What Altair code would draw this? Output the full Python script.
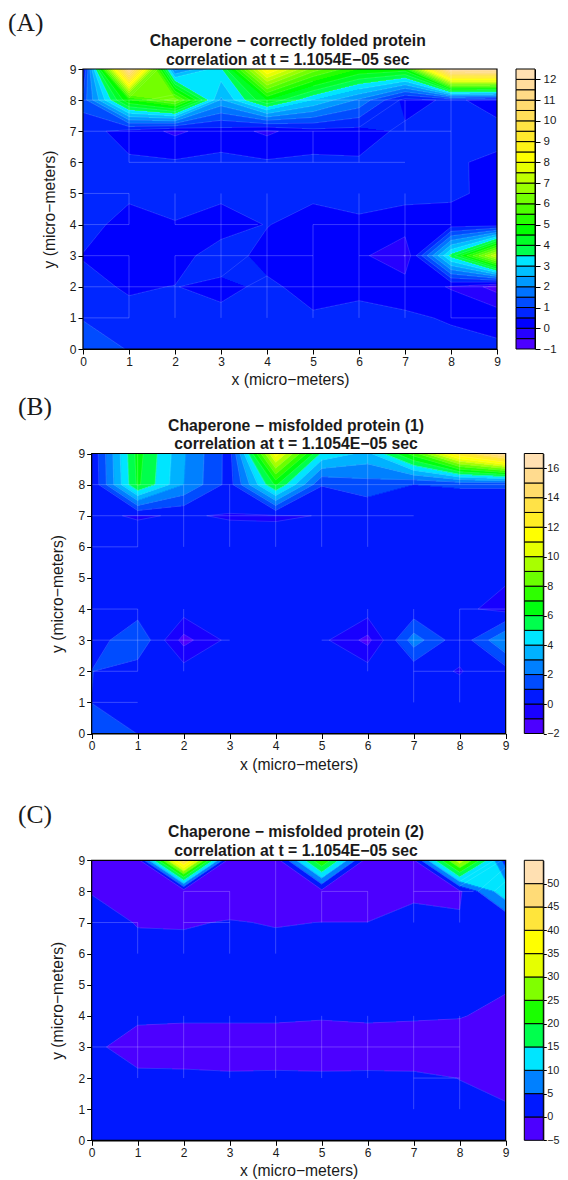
import colorsys
import altair as alt
import numpy as np
import pandas as pd

# Grid readings, one row per y from y=9 down to y=0, columns x=0..9
Z_A = [
    [.3, 11.8, 1.8, 3.4, 8.7, 6.3, 5.0, 4.8, 12.3, 12.4],
    [1.2, 5.0, 6.3, 2.4, 4.5, 3.0, 1.9, .3, .6, .3],
    [.7, .3, -.1, .25, -.1, .3, .3, .6, .7, .65],
    [.7, .57, .56, .62, .56, .57, .55, .7, .55, .42],
    [.6, .6, .6, .6, .6, .6, .6, .6, .6, .35],
    [.7, .3, .485, .3, .52, .3, .45, .33, .25, .2],
    [.48, .2, .32, .72, .35, .2, .15, -.52, 3.7, 7.5],
    [.6, .46, .51, .4, .58, .35, .42, .35, -.05, -.7],
    [.98, .6, .6, .6, .6, .55, .6, .55, .47, .35],
    [1.2, .98, .6, .6, .6, .6, .6, .6, .6, .58],
]
Z_B = [
    [.1, 6.4, 3.1, .6, 11.5, 4.8, 3.7, 7.5, 13, 16.3],
    [.05, 6.2, 3.0, .6, 6.2, 1.05, 1.6, 1.0, 1.1, 1.1],
    [.1, -.05, .05, -.05, -.07, .02, .1, .2, .3, .3],
    [.4, .3, .3, .3, .3, .35, .4, .4, .4, .4],
    [.4, .4, .4, .4, .4, .4, .4, .4, .4, .1],
    [.4, .5, .5, .4, .4, .4, .5, .3, .2, -.3],
    [.4, 1.9, -1.35, .3, .35, .25, -1.3, 2.5, .3, 3.0],
    [1.02, .45, .5, .4, .4, .4, .5, .3, -.05, .6],
    [.99, .4, .4, .4, .4, .4, .4, .4, .4, .4],
    [1.3, .99, .4, .4, .4, .4, .4, .4, .4, .4],
]
Z_C = [
    [-1, -2.3, 47, -3, -2.5, 25, -2.5, -.5, 33, 2.5],
    [-.1, -1.5, -2.8, -1, -1.5, -1.3, -1, -.3, -.7, 13.6],
    [.8, -.1, -.15, .1, -.1, .02, .02, .5, .5, .5],
    [.5, .5, .5, .5, .5, .5, .5, .5, .5, .5],
    [.5, .5, .5, .5, .5, .5, .5, .5, .5, .21],
    [.5, .43, .3, .3, .3, .16, .3, .2, .1, -.5],
    [.47, -1, -1, -1, -1, -1, -1, -1, -1, -1.5],
    [.5, .47, .41, .28, .33, .28, .32, .28, -.02, -.4],
    [.5, .5, .5, .5, .5, .5, .5, .5, .3, .13],
    [.5, .5, .5, .5, .5, .5, .5, .5, .5, .5],
]

# Faint seams along cell edges: x1, y1, x2, y2
SEAMS_A = [
    (0, 8, 9, 8), (0, 7, 8, 7), (1, 6, 7, 6), (0, 5, 1, 5), (2, 4, 3.8, 4), (0, 4, 1, 4), (5, 4, 8, 4),
    (0, 3, 1, 3), (2, 3, 5, 3), (6, 3, 8, 3), (0, 2, 5, 2), (5, 2, 6, 2), (6, 2, 9, 2), (0, 1, 1, 1), (8, 1, 9, 1),
    (1, 8, 1, 6), (2, 8, 2, 6), (3, 8, 3, 6), (4, 8, 4, 6), (5, 7, 5, 6), (6, 8, 6, 6), (7, 8, 7, 7), (8, 9, 8, 1),
    (1, 5, 1, 4), (1, 3, 1, 1), (2, 5, 2, 4), (2, 3, 2, 1), (3, 5, 3, 1), (4, 5, 4, 1), (5, 4, 5, 1), (6, 5, 6, 1), (7, 5, 7, 1),
]
SEAMS_B = [
    (0, 8, 9, 8), (0, 7, 7, 7), (0, 6, 1, 6), (0, 4, 1, 4), (8, 4, 9, 4), (0, 3, 3, 3), (5, 3, 9, 3),
    (0, 2, 1, 2), (7, 2, 9, 2), (0, 1, 1, 1),
    (1, 9, 1, 6), (1, 4, 1, 2), (2, 8, 2, 6), (2, 4, 2, 2), (3, 8, 3, 6), (4, 8, 4, 6), (5, 8.8, 5, 6),
    (6, 9, 6, 6), (6, 4, 6, 2), (7, 9, 7, 8), (7, 4, 7, 1), (8, 9, 8, 8), (8, 4, 8, 1),
]
SEAMS_C = [
    (2, 8, 3, 8), (5, 8, 6, 8), (7, 8, 8.3, 8), (0, 7, 1, 7), (2, 7, 3, 7), (0, 3, 8, 3), (7, 2, 8, 2),
    (1, 7, 1, 6), (2, 8, 2, 6), (3, 8, 3, 6), (4, 9, 4, 6), (5, 8, 5, 7), (6, 8, 6, 7), (7, 9, 7, 7), (8, 8, 8, 7),
    (1, 4, 1, 2), (2, 4, 2, 2), (3, 4, 3, 2), (4, 4, 4, 2), (5, 4, 5, 2), (6, 4, 6, 2), (7, 4, 7, 1), (8, 4, 8, 1),
]

TITLES = [
    ["Chaperone − correctly folded protein", "correlation at t = 1.1054E−05 sec"],
    ["Chaperone − misfolded protein (1)", "correlation at t = 1.1054E−05 sec"],
    ["Chaperone − misfolded protein (2)", "correlation at t = 1.1054E−05 sec"],
]
TAGS = ["(A)", "(B)", "(C)"]
BAR_LOW = [-1, -2, -5]
BAR_STEP = [0.5, 1, 5]
BAR_BINS = [27, 19, 12]
BAR_TICKS = [list(range(-1, 13)), list(range(-2, 17, 2)), list(range(-5, 51, 5))]
BAR_PAD = [3, 0.5, 0.5]
BAR_TICK = [5, 3, 3]
BAR_FONT = [11.5, 10.8, 10.8]
AXIS_TICKS = list(range(10))

VIEW_W, VIEW_H = 552, 1172
# x0, x1, y_top, y_bottom, bar_left, bar_right, title_x, title_y1, title_y2, tag_x, tag_y
GEOM = [
    (75, 489, 61, 341, 508, 527, 279.8, 33, 52, 0, 15),
    (83.67, 497.67, 445.5, 725.5, 516.3, 535.3, 288, 417.5, 436, 10, 399),
    (83.67, 497.67, 852.3, 1132.3, 516.3, 535.3, 288, 824, 843, 10, 807),
]
W, H = 414, 280
SANS = "Liberation Sans"
INK = "#1a1a1a"


def topo(n):
    j = n // 3
    i = n - 2 * j
    out = []
    for h in np.linspace(43 / 60, 31 / 60, i):
        out.append(colorsys.hsv_to_rgb(h, 1, 1))
    for h in np.linspace(23 / 60, 11 / 60, j):
        out.append(colorsys.hsv_to_rgb(h, 1, 1))
    for h, s in zip(np.linspace(10 / 60, 6 / 60, j), np.linspace(1, .3, j)):
        out.append(colorsys.hsv_to_rgb(h, s, 1))
    return ["#%02x%02x%02x" % tuple(int(round(c * 255)) for c in rgb) for rgb in out]


def above_polygon(corners, lev):
    poly = []
    for t in range(4):
        p, q = corners[t], corners[(t + 1) % 4]
        if p[2] >= lev:
            poly.append((p[0], p[1]))
        if (p[2] - lev) * (q[2] - lev) < 0:
            f = (lev - p[2]) / (q[2] - p[2])
            poly.append((p[0] + f * (q[0] - p[0]), p[1] + f * (q[1] - p[1])))
    return poly


def inside(poly, X, Y):
    res = np.zeros(X.shape, bool)
    for t in range(len(poly)):
        x1, y1 = poly[t]
        x2, y2 = poly[(t + 1) % len(poly)]
        if y1 == y2:
            continue
        crosses = (y1 > Y) != (y2 > Y)
        xint = x1 + (Y - y1) / (y2 - y1) * (x2 - x1)
        res ^= crosses & (X < xint)
    return res


def cell_corners(z, i, j):
    return [(i, j, z[j, i]), (i + 1, j, z[j, i + 1]), (i + 1, j + 1, z[j + 1, i + 1]), (i, j + 1, z[j + 1, i])]


def bands(z, low, step, n, colors):
    sub = 4
    xs = (np.arange(W * sub) + .5) / sub / W * 9
    ys = 9 - (np.arange(H) + .5) / H * 9
    X, Y = np.meshgrid(xs, ys)
    cls = np.zeros(X.shape, int)
    levels = low + step * np.arange(1, n)
    ci = np.clip(np.floor(X).astype(int), 0, 8)
    cj = np.clip(np.floor(Y).astype(int), 0, 8)
    for j in range(9):
        for i in range(9):
            mask = (ci == i) & (cj == j)
            corners = cell_corners(z, i, j)
            vals = [p[2] for p in corners]
            xm, ym = X[mask], Y[mask]
            count = np.zeros(xm.shape, int)
            for lev in levels:
                if lev <= min(vals):
                    count += 1
                elif lev < max(vals):
                    count += inside(above_polygon(corners, lev), xm, ym).astype(int)
            cls[mask] = count
    rows = []
    for r in range(H):
        y_top = 9 - 9 * r / H
        y_bot = max(0, 9 - 9 * (r + 2.0) / H)
        line = cls[r]
        cuts = np.flatnonzero(np.diff(line)) + 1
        starts = np.r_[0, cuts]
        ends = np.r_[cuts, len(xs)]
        for s, e in zip(starts, ends):
            rows.append({
                "x": round(s / sub / W * 9, 4),
                "x2": round(min(e / sub + 1, W) / W * 9, 4),
                "y": round(y_top, 4),
                "y2": round(y_bot, 4),
                "c": colors[line[s]],
            })
    return pd.DataFrame(rows)


def contour_segments(z, low, step, n):
    segs = []
    levels = low + step * np.arange(1, n)
    for j in range(9):
        for i in range(9):
            corners = cell_corners(z, i, j)
            for lev in levels:
                pts = []
                for t in range(4):
                    p, q = corners[t], corners[(t + 1) % 4]
                    if (p[2] - lev) * (q[2] - lev) < 0:
                        f = (lev - p[2]) / (q[2] - p[2])
                        pts.append((p[0] + f * (q[0] - p[0]), p[1] + f * (q[1] - p[1])))
                for a in range(0, len(pts) - 1, 2):
                    segs.append({"x": pts[a][0], "y": pts[a][1], "x2": pts[a + 1][0], "y2": pts[a + 1][1]})
    return pd.DataFrame(segs)


def label(text, x, y, **style):
    return alt.Chart(pd.DataFrame({"t": [text]})).mark_text(align="center", baseline="middle", color=INK, **style).encode(
        x=alt.value(x), y=alt.value(y), text="t:N")


def panel(k, z_rows, seams):
    x0, x1, yt, yb, bl, br, tx, ty1, ty2, gx, gy = GEOM[k]
    z = np.array(z_rows, dtype=float)[::-1]
    low, step, n = BAR_LOW[k], BAR_STEP[k], BAR_BINS[k]
    colors = topo(n)
    xs = alt.Scale(domain=[0, 9], nice=False, zero=False, range=[x0, x1])
    ys = alt.Scale(domain=[0, 9], nice=False, zero=False, range=[yb, yt])
    common = dict(domainColor="black", tickColor="black", labelColor=INK, titleColor=INK,
                  labelFont=SANS, titleFont=SANS, labelFontSize=12, titleFontSize=15.7,
                  titleFontWeight="normal", tickSize=5, grid=False, values=AXIS_TICKS,
                  domainWidth=1.2, tickWidth=1, labelFlush=False, labelOverlap=False)
    xax = alt.Axis(title="x (micro−meters)", orient="bottom", offset=-(VIEW_H - yb),
                   labelPadding=2, titlePadding=5.5, labelAngle=0, **common)
    yax = alt.Axis(title="y (micro−meters)", orient="left", offset=-x0,
                   labelPadding=2, titlePadding=12, **common)
    plain = dict(
        x=alt.X("x:Q", scale=xs, axis=None), x2="x2:Q",
        y=alt.Y("y:Q", scale=ys, axis=None), y2="y2:Q",
    )
    base = alt.Chart(bands(z, low, step, n, colors)).mark_rect(clip=True, strokeWidth=0).encode(
        x=alt.X("x:Q", scale=xs, axis=xax), x2="x2:Q",
        y=alt.Y("y:Q", scale=ys, axis=yax), y2="y2:Q",
        color=alt.Color("c:N", scale=None),
    )
    lines = alt.Chart(contour_segments(z, low, step, n)).mark_rule(
        color="white", opacity=.22, strokeWidth=.6).encode(**plain)
    sdf = pd.DataFrame(seams, columns=["x", "y", "x2", "y2"])
    seam_marks = alt.Chart(sdf).mark_rule(color="white", opacity=.28, strokeWidth=.8).encode(**plain)
    frame = alt.Chart(pd.DataFrame({"x": [0], "x2": [9], "y": [0], "y2": [9]})).mark_rect(
        filled=False, stroke="black", strokeWidth=1.2).encode(**plain)

    bar_df = pd.DataFrame({
        "b0": [low + step * q for q in range(n)],
        "b1": [low + step * (q + 1) for q in range(n)],
        "c": colors,
    })
    bar_scale = alt.Scale(domain=[low, low + step * n], nice=False, zero=False, range=[yb, yt])
    bar = alt.Chart(bar_df).mark_rect(stroke="black", strokeWidth=1).encode(
        x=alt.value(bl), x2=alt.value(br),
        y=alt.Y("b0:Q", scale=bar_scale, axis=alt.Axis(
            title=None, orient="right", offset=-(VIEW_W - br), values=BAR_TICKS[k], grid=False, tickSize=BAR_TICK[k],
            tickColor="black", domainColor="black", labelColor=INK, labelFont=SANS, labelFlush=False, labelOverlap=False,
            labelFontSize=BAR_FONT[k], labelPadding=BAR_PAD[k])),
        y2="b1:Q",
        color=alt.Color("c:N", scale=None),
    )
    texts = [
        label(TITLES[k][0], tx, ty1, font=SANS, fontWeight="bold", fontSize=15.75),
        label(TITLES[k][1], tx, ty2, font=SANS, fontWeight="bold", fontSize=15.75),
        alt.Chart(pd.DataFrame({"t": [TAGS[k]]})).mark_text(
            font="Liberation Serif", fontSize=25.5, color=INK, align="left", baseline="middle"
        ).encode(x=alt.value(gx), y=alt.value(gy), text="t:N"),
    ]
    return [base, lines, seam_marks, frame, bar] + texts


parts = panel(0, Z_A, SEAMS_A) + panel(1, Z_B, SEAMS_B) + panel(2, Z_C, SEAMS_C)

chart = alt.layer(*parts).resolve_scale(x="independent", y="independent").properties(
    width=VIEW_W, height=VIEW_H, padding=0, autosize=alt.AutoSizeParams(type="none")
).configure_view(stroke=None)
chart.save("out.html", embed_options={"renderer": "svg", "actions": False})
